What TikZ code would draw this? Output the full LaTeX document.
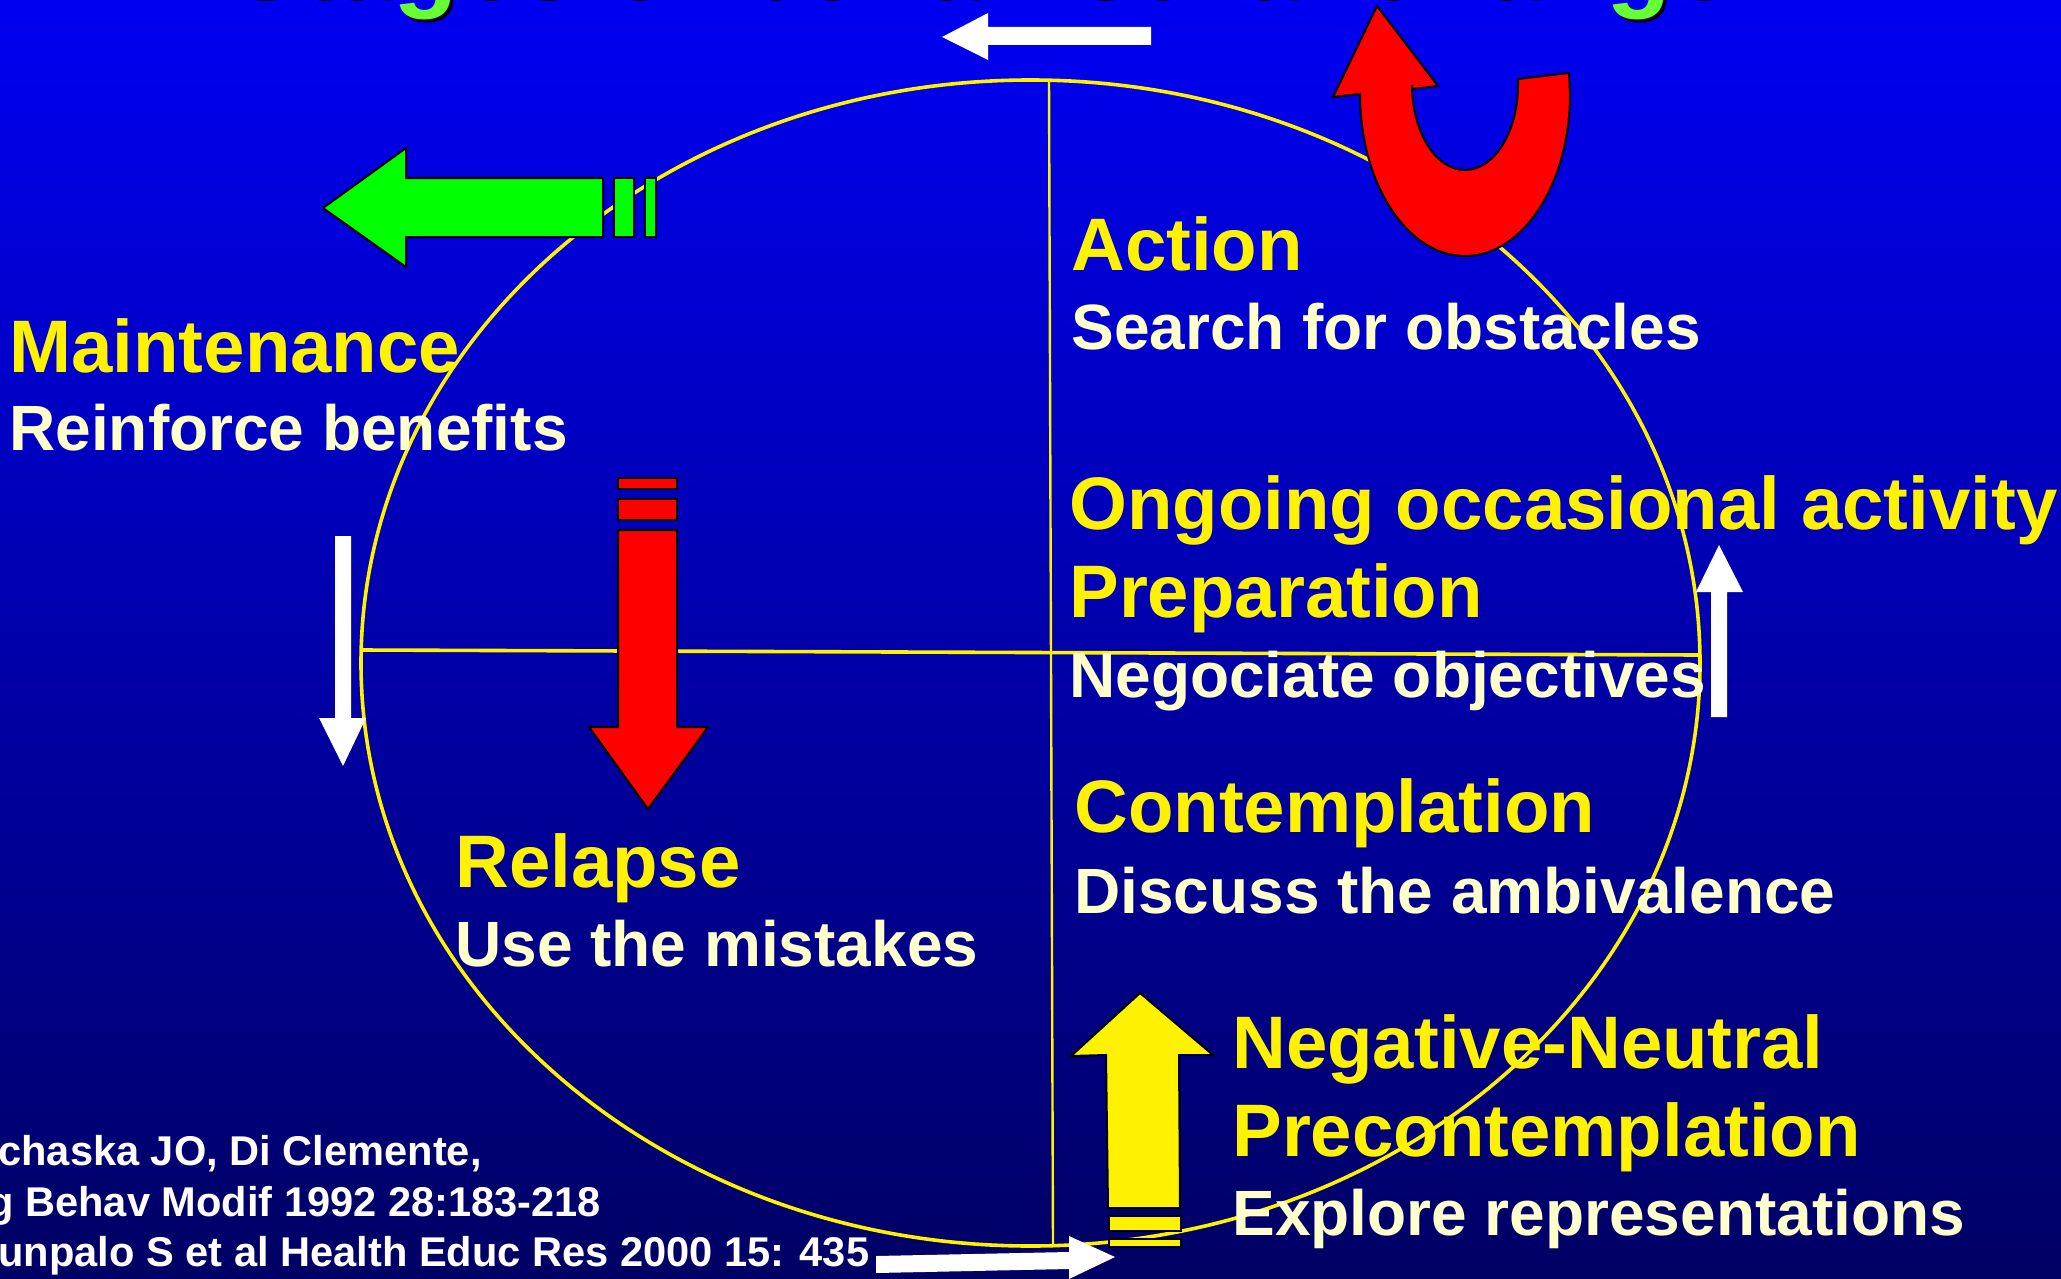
\documentclass[tikz,border=0pt]{standalone}
\usepackage{fontspec}
\setmainfont{Liberation Sans}
\usetikzlibrary{positioning}
\definecolor{slidetop}{RGB}{0,0,242}
\definecolor{slidemid}{RGB}{0,0,185}
\definecolor{slidebot}{RGB}{0,0,100}
\definecolor{cream}{RGB}{255,255,204}
\definecolor{titlegreen}{RGB}{102,255,51}

\begin{document}
\begin{tikzpicture}[x=0.5pt,y=-0.5pt,
                    stagehead/.style={anchor=base west,
                                      inner sep=0,
                                      text=yellow,
                                      font=\bfseries\fontsize{37.2pt}{44pt}\selectfont
                                     },
                    stagetext/.style={inner sep=0,
                                      text=cream,
                                      font=\bfseries\fontsize{32pt}{38pt}\selectfont
                                     },
                    refline/.style={inner sep=0,
                                    text=white,
                                    font=\bfseries\fontsize{20.8pt}{25pt}\selectfont
                                   },
                    titletext/.style={anchor=base west,
                                      inner sep=0,
                                      font=\bfseries\fontsize{53pt}{60pt}\selectfont
                                     },
                    blockarrow/.style={draw=black,
                                       line width=1pt,
                                       line join=miter
                                      },
                    cycleline/.style={draw=yellow,
                                      line width=1.8pt
                                     }
                   ]
\useasboundingbox (0,0) rectangle (2061,1279);
\clip (0,0) rectangle (2061,1279);
\shade[top color=slidetop,middle color=slidemid,bottom color=slidebot] (0,0) rectangle (2061,1279);

\node[titletext,text=black] (titleshadow) at (231,1) {Stages of behavioural change};
\node[titletext,text=titlegreen] (title) at (228,-2) {Stages of behavioural change};

\draw[cycleline] (1030.5,663) ellipse [x radius=669.5,y radius=583];
\draw[yellow,line width=1.2pt] (1049,80) -- (1053,1247);
\draw[cycleline] (361,650) -- (1699,655);

\fill[white] (942,37) -- (988,13) -- (988,27) -- (1151,27) -- (1151,45) -- (988,45) -- (988,60) -- cycle;
\fill[white] (335,536) -- (351,536) -- (351,718) -- (366,718) -- (343,766) -- (319,718) -- (335,718) -- cycle;
\fill[white] (1711,717) -- (1711,592) -- (1696,592) -- (1719,545) -- (1743,592) -- (1727,592) -- (1727,717) -- cycle;
\fill[white] (876,1256) -- (1069,1252) -- (1069,1236) -- (1115,1257) -- (1069,1279) -- (1069,1269) -- (876,1273) -- cycle;

\draw[blockarrow,fill=green] (323,208) -- (406,148) -- (406,178) -- (603,178) -- (603,237) -- (406,237) -- (406,267) -- cycle;
\draw[blockarrow,fill=green] (614,178) rectangle (634,237);
\draw[blockarrow,fill=green] (645,178) rectangle (656,237);

\draw[blockarrow,fill=red] (618,478) rectangle (677,489);
\draw[blockarrow,fill=red] (618,499) rectangle (677,520);
\draw[blockarrow,fill=red] (618,530) -- (677,530) -- (677,727) -- (708,727) -- (648,809) -- (589,727) -- (618,727) -- cycle;

\draw[blockarrow,fill=red] (1360,94) arc [start angle=180,end angle=0,x radius=105,y radius=162]
      -- (1569,73) -- (1518,79) -- (1518,85)
      arc [start angle=0,end angle=180,x radius=53,y radius=85]
      -- (1412,89) -- (1438,86) -- (1377,6) -- (1333,97) -- cycle;

\draw[blockarrow,fill=yellow] (1140,993) -- (1213,1055) -- (1179,1055) -- (1180,1208) -- (1108,1208) -- (1106,1055) -- (1071,1056) -- cycle;
\draw[blockarrow,fill=yellow] (1109,1216) rectangle (1181,1231);
\draw[blockarrow,fill=yellow] (1109,1239) rectangle (1181,1247);

\node[stagehead] (maintenance) at (9,372) {Maintenance};
\node[stagetext,below=39pt of maintenance.base west,anchor=base west] (benefits) {Reinforce benefits};
\node[stagehead] (action) at (1071,270) {Action};
\node[stagetext,below=39.5pt of action.base west,anchor=base west] (obstacles) {Search for obstacles};
\node[stagehead] (ongoing) at (1069,529) {Ongoing occasional activity};
\node[stagehead,below=44pt of ongoing.base west,anchor=base west] (preparation) {Preparation};
\node[stagetext,below=40pt of preparation.base west,anchor=base west] (objectives) {Negociate objectives};
\node[stagehead] (contemplation) at (1074,832) {Contemplation};
\node[stagetext,below=40.5pt of contemplation.base west,anchor=base west] (ambivalence) {Discuss the ambivalence};
\node[stagehead] (relapse) at (455,887) {Relapse};
\node[stagetext,below=39.5pt of relapse.base west,anchor=base west] (mistakes) {Use the mistakes};
\node[stagehead] (neutral) at (1232,1068) {Negative-Neutral};
\node[stagehead,below=44pt of neutral.base west,anchor=base west] (precontemplation) {Precontemplation};
\node[stagetext,below=39.5pt of precontemplation.base west,anchor=base west] (representations) {Explore representations};

\node[refline,anchor=base west] (refone) at (-2,1165) {chaska JO, Di Clemente,};
\node[refline,below=25.5pt of refone.base west,anchor=base west,xshift=-5pt] (reftwo) {g Behav Modif 1992 28:183-218};
\node[refline,below=50.5pt of refone.base west,anchor=base west] (refthree) {unpalo S et al Health Educ Res 2000 15: 435};
\end{tikzpicture}
\end{document}
